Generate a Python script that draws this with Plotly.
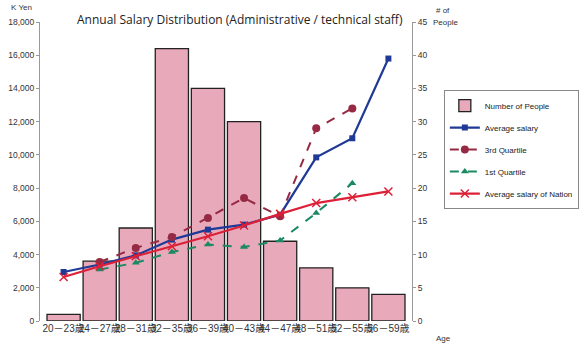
import plotly.graph_objects as go

categories = ["20－23歳", "24－27歳", "28－31歳", "32－35歳", "36－39歳",
              "40－43歳", "44－47歳", "48－51歳", "52－55歳", "56－59歳"]
people = [1, 9, 14, 41, 35, 30, 12, 8, 5, 4]
avg_salary = [2950, 3400, 3950, 4900, 5500, 5800, 6400, 9850, 11000, 15800]
q3 = [None, 3550, 4400, 5050, 6200, 7400, 6300, 11600, 12800, None]
q1 = [None, 3100, 3500, 4150, 4600, 4450, 4850, 6500, 8300, None]
nation = [2650, 3300, 3900, 4500, 5100, 5750, 6450, 7100, 7450, 7800]

salary_ticks = list(range(0, 18001, 2000))
people_ticks = list(range(0, 46, 5))

fig = go.Figure()
fig.add_trace(go.Bar(
    x=categories, y=people, name="Number of People", yaxis="y",
    marker=dict(color="#e8a9bb", line=dict(color="#222222", width=1.3)),
    legendgroup="a"))
fig.add_trace(go.Scatter(
    x=categories, y=avg_salary, name="Average salary", yaxis="y2",
    mode="lines+markers", line=dict(color="#1f3a96", width=2.2),
    marker=dict(symbol="square", size=6, color="#1f3a96"), legendgroup="b"))
fig.add_trace(go.Scatter(
    x=categories, y=q3, name="3rd Quartile", yaxis="y2",
    mode="lines+markers", line=dict(color="#962a44", width=2, dash="dash"),
    marker=dict(symbol="circle", size=8, color="#962a44"), legendgroup="c"))
fig.add_trace(go.Scatter(
    x=categories, y=q1, name="1st Quartile", yaxis="y2",
    mode="lines+markers", line=dict(color="#1b8a62", width=2, dash="dash"),
    marker=dict(symbol="triangle-up", size=7, color="#1b8a62"), legendgroup="d"))
fig.add_trace(go.Scatter(
    x=categories, y=nation, name="Average salary of Nation", yaxis="y2",
    mode="lines+markers", line=dict(color="#dc2038", width=2.2),
    marker=dict(symbol="x-thin-open", size=8, color="#dc2038",
                line=dict(color="#dc2038", width=1.5)), legendgroup="e"))

tickfont = dict(family="Liberation Sans, Arial", size=8.5, color="#333333")
small = dict(family="Liberation Sans, Arial", size=8, color="#333333")

fig.update_layout(
    width=584, height=345,
    margin=dict(l=40, r=172, t=22, b=24, autoexpand=False),
    paper_bgcolor="white", plot_bgcolor="white",
    bargap=0.08,
    showlegend=True,
    legend=dict(xref="container", yref="container", x=0.760, y=0.739,
                xanchor="left", yanchor="top",
                bordercolor="#888888", borderwidth=1,
                font=dict(family="Liberation Sans, Arial", size=8, color="#222222"),
                traceorder="grouped", tracegroupgap=3, bgcolor="white"),
    xaxis=dict(type="category", showline=False, showgrid=False, ticks="",
               tickangle=0, automargin=False,
               tickfont=dict(family="Liberation Sans, Noto Sans CJK JP", size=10,
                             color="#333333")),
    yaxis=dict(side="right", range=[0, 45], tickvals=people_ticks,
               showgrid=False, showline=True, linecolor="#999999", linewidth=1,
               ticks="outside", ticklen=3, tickcolor="#999999",
               tickfont=tickfont, zeroline=False, automargin=False),
    yaxis2=dict(side="left", overlaying="y", range=[0, 18000],
                tickvals=salary_ticks, tickformat=",",
                showgrid=False, showline=True, linecolor="#999999", linewidth=1,
                ticks="outside", ticklen=3, tickcolor="#999999",
                tickfont=tickfont, zeroline=False, automargin=False),
)

fig.add_annotation(text="Annual Salary Distribution (Administrative / technical staff)",
                   xref="paper", yref="paper", x=0.538, y=1.007, yanchor="middle",
                   xanchor="center", showarrow=False,
                   font=dict(family="Open Sans", size=12, color="#222222"))
fig.add_annotation(text="K Yen", xref="paper", yref="paper", x=-0.015, y=1.047,
                   xanchor="right", yanchor="middle", showarrow=False, font=small)
fig.add_annotation(text="# of", xref="paper", yref="paper", x=1.06, y=1.04,
                   xanchor="left", yanchor="middle", showarrow=False, font=small)
fig.add_annotation(text="People", xref="paper", yref="paper", x=1.052, y=1.0,
                   xanchor="left", yanchor="middle", showarrow=False, font=small)
fig.add_annotation(text="Age", xref="paper", yref="paper", x=1.06, y=-0.057,
                   xanchor="left", yanchor="middle", showarrow=False, font=small)

fig.write_html("out.html", config={"displayModeBar": False},
               post_script="document.body.style.margin='0';")
